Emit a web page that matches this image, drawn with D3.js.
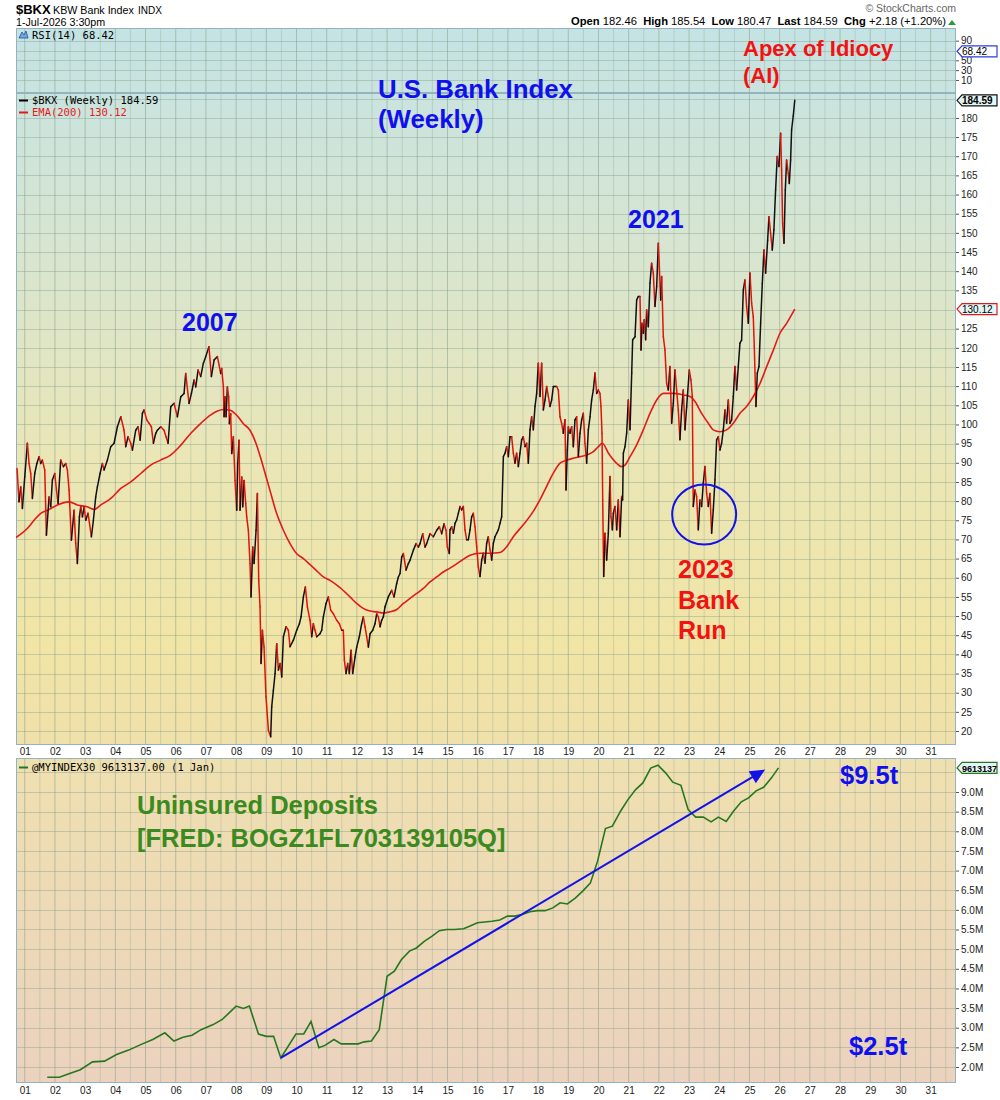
<!DOCTYPE html>
<html>
<head>
<meta charset="utf-8">
<script src="https://cdn.jsdelivr.net/npm/d3@7"></script>
<style>
  body { margin: 0; background: #fff; }
  text { font-family: "Liberation Sans", Arial, sans-serif; }
  .mono { font-family: "DejaVu Sans Mono", monospace; }
</style>
</head>
<body>
<svg id="chart"></svg>
<script>
// $BKX weekly closes (decimal year, index level)
const bkxT = [2000.745,2000.81,2000.867,2000.922,2001.0,2001.087,2001.143,2001.198,2001.253,2001.33,2001.4,2001.474,2001.53,2001.584,2001.662,2001.717,2001.805,2001.86,2001.915,2001.993,
  2002.05,2002.103,2002.19,2002.28,2002.357,2002.412,2002.467,2002.545,2002.633,2002.688,2002.743,2002.81,2002.854,2002.91,2002.964,2003.02,2003.096,2003.207,2003.273,2003.35,
  2003.405,2003.494,2003.571,2003.627,2003.737,2003.847,2003.958,2004.068,2004.18,2004.289,2004.344,2004.42,2004.51,2004.565,2004.675,2004.752,2004.82,2004.896,2004.95,2005.04,
  2005.117,2005.194,2005.26,2005.338,2005.393,2005.503,2005.613,2005.68,2005.746,2005.834,2005.944,2006.055,2006.165,2006.276,2006.33,2006.44,2006.52,2006.607,2006.662,2006.74,
  2006.827,2006.915,2006.993,2007.1,2007.18,2007.27,2007.38,2007.49,2007.522,2007.578,2007.6,2007.633,2007.666,2007.71,2007.754,2007.776,2007.82,2007.854,2007.909,2007.964,
  2008.02,2008.052,2008.096,2008.13,2008.185,2008.218,2008.262,2008.317,2008.35,2008.405,2008.46,2008.494,2008.55,2008.593,2008.66,2008.704,2008.748,2008.792,2008.825,2008.87,
  2008.924,2008.99,2009.068,2009.145,2009.178,2009.233,2009.29,2009.344,2009.4,2009.454,2009.51,2009.565,2009.653,2009.73,2009.785,2009.896,2010.006,2010.095,2010.15,2010.227,
  2010.293,2010.36,2010.448,2010.503,2010.558,2010.613,2010.668,2010.779,2010.834,2010.889,2010.977,2011.055,2011.132,2011.22,2011.33,2011.42,2011.496,2011.55,2011.584,2011.64,
  2011.695,2011.75,2011.805,2011.86,2011.938,2011.993,2012.08,2012.158,2012.213,2012.27,2012.324,2012.38,2012.435,2012.523,2012.6,2012.655,2012.71,2012.766,2012.82,2012.876,
  2012.931,2013.04,2013.152,2013.23,2013.317,2013.373,2013.428,2013.483,2013.54,2013.627,2013.704,2013.76,2013.87,2013.958,2014.035,2014.09,2014.18,2014.256,2014.31,2014.421,
  2014.532,2014.642,2014.73,2014.807,2014.885,2014.95,2014.995,2015.06,2015.083,2015.138,2015.194,2015.249,2015.304,2015.359,2015.414,2015.47,2015.525,2015.58,2015.635,2015.69,
  2015.745,2015.8,2015.856,2015.91,2015.966,2016.02,2016.077,2016.132,2016.187,2016.242,2016.297,2016.352,2016.408,2016.463,2016.518,2016.573,2016.628,2016.684,2016.739,2016.794,
  2016.85,2016.904,2016.96,2017.015,2017.07,2017.125,2017.18,2017.235,2017.29,2017.346,2017.4,2017.456,2017.51,2017.567,2017.622,2017.677,2017.732,2017.787,2017.842,2017.898,
  2017.953,2018.008,2018.063,2018.118,2018.174,2018.23,2018.284,2018.34,2018.394,2018.45,2018.505,2018.56,2018.615,2018.67,2018.726,2018.78,2018.836,2018.891,2018.924,2018.968,
  2019.002,2019.057,2019.112,2019.167,2019.222,2019.278,2019.333,2019.388,2019.443,2019.498,2019.553,2019.608,2019.664,2019.72,2019.774,2019.83,2019.885,2019.94,2019.995,2020.05,
  2020.083,2020.117,2020.14,2020.172,2020.216,2020.27,2020.326,2020.381,2020.415,2020.46,2020.492,2020.547,2020.602,2020.657,2020.713,2020.768,2020.8,2020.823,2020.878,2020.933,
  2020.988,2021.044,2021.1,2021.132,2021.21,2021.265,2021.32,2021.375,2021.408,2021.44,2021.485,2021.518,2021.562,2021.595,2021.65,2021.706,2021.76,2021.816,2021.87,2021.927,
  2021.982,2022.015,2022.06,2022.092,2022.147,2022.202,2022.257,2022.312,2022.367,2022.423,2022.478,2022.533,2022.588,2022.643,2022.698,2022.754,2022.809,2022.864,2022.92,2023.008,
  2023.063,2023.107,2023.14,2023.195,2023.25,2023.306,2023.36,2023.416,2023.47,2023.526,2023.582,2023.637,2023.692,2023.747,2023.802,2023.858,2023.913,2023.968,2024.023,2024.078,
  2024.134,2024.19,2024.244,2024.3,2024.354,2024.41,2024.465,2024.52,2024.575,2024.63,2024.685,2024.74,2024.796,2024.85,2024.906,2024.962,2025.016,2025.072,2025.127,2025.16,
  2025.215,2025.26,2025.315,2025.37,2025.425,2025.48,2025.535,2025.602,2025.646,2025.7,2025.756,2025.81,2025.866,2025.92,2025.977,2026.032,2026.065,2026.098,2026.143,2026.187,
  2026.23,2026.286,2026.32,2026.363,2026.396,2026.45,2026.5];
const bkxP = [88.5,79.8,83.7,78.1,86.4,95.1,89.8,87.2,80.7,87.2,89.8,91.6,89.8,90.7,88.1,71.1,81.1,78.5,85.5,87.2,
  82.9,79.4,90.7,89.0,89.8,88.1,82.9,69.8,77.6,68.9,63.7,75.9,78.5,75.9,78.5,75.0,76.8,70.7,75.0,81.1,
  83.7,87.2,89.8,88.1,90.7,94.2,95.1,99.4,102.0,98.5,94.2,96.8,95.1,93.3,98.5,99.4,95.9,102.9,103.8,101.2,
  100.3,99.4,95.1,97.7,98.5,99.4,98.5,96.8,95.1,104.6,105.5,102.0,107.2,108.1,113.3,105.5,108.1,111.6,109.8,114.2,
  112.5,116.0,117.7,120.3,112.5,116.8,117.7,113.3,114.6,109.8,102.0,107.2,102.0,109.8,107.2,100.2,102.8,92.4,96.8,85.4,
  77.6,89.8,95.9,77.6,86.3,78.5,85.4,79.4,75.9,72.4,63.7,55.0,68.0,63.7,72.4,82.0,59.4,52.4,37.6,46.3,
  42.0,28.9,20.2,18.5,26.3,30.6,35.0,42.8,35.9,37.6,34.1,44.6,47.2,46.3,42.0,43.7,46.3,48.0,49.8,55.0,
  57.6,52.4,48.9,44.6,48.0,46.3,44.6,45.4,46.3,49.8,53.3,55.0,51.5,50.6,48.9,48.0,46.3,46.3,38.5,35.0,
  37.6,35.0,41.1,35.0,39.3,41.9,44.6,48.0,49.8,47.2,44.6,41.9,45.4,46.3,48.0,50.6,49.8,47.2,48.9,49.8,
  52.4,55.0,56.7,55.0,58.5,60.2,61.1,65.4,66.3,62.0,63.7,64.6,67.2,68.9,68.0,68.9,71.5,68.0,68.9,71.5,
  70.7,72.4,73.3,71.5,74.1,72.4,68.0,66.3,72.5,73.3,71.6,74.2,75.1,76.8,78.6,77.7,78.6,72.5,69.9,69.9,
  72.5,75.9,76.8,73.3,68.1,62.9,60.3,64.6,66.4,63.8,69.0,70.7,67.3,64.6,69.0,70.7,71.6,72.5,74.2,75.9,
  91.6,92.5,94.2,91.6,96.8,96.8,92.5,89.9,92.5,89.0,92.5,96.0,96.8,94.2,95.1,89.9,98.6,102.0,98.6,104.7,
  108.1,116.0,107.3,116.0,103.8,106.4,109.9,107.3,104.7,106.4,109.9,109.9,109.9,109.0,102.0,100.3,97.7,101.2,82.9,93.4,
  99.4,97.7,99.4,94.2,101.2,102.0,91.6,97.7,101.2,102.9,95.1,89.9,98.6,102.0,106.4,109.0,113.4,108.1,109.0,108.1,
  104.7,97.7,80.3,60.3,71.6,64.6,71.6,86.4,75.9,72.5,76.8,78.6,72.5,80.3,70.7,81.2,80.3,92.5,94.2,97.7,
  106.4,98.6,113.4,122.1,122.9,132.5,133.4,133.4,119.4,126.4,123.8,127.3,122.1,129.9,125.5,136.9,142.1,139.5,130.8,136.0,
  147.3,141.2,132.5,138.6,122.9,119.4,110.7,109.0,115.1,100.3,105.5,114.2,109.0,103.8,96.0,103.8,109.0,98.6,104.6,114.2,
  111.6,107.3,78.6,82.9,81.2,72.5,80.3,78.6,84.6,89.0,82.0,78.6,82.0,71.6,77.7,85.5,96.0,96.8,93.3,95.1,
  98.6,103.8,100.3,106.4,100.3,101.2,107.3,115.1,109.0,115.1,121.2,122.0,135.1,137.7,130.7,126.4,139.5,131.6,128.1,120.3,
  104.7,113.4,115.1,126.4,136.8,145.5,139.5,148.1,154.2,149.9,145.5,150.8,161.2,169.9,167.3,176.0,166.4,152.5,147.3,161.2,
  169.0,165.5,162.9,169.0,176.9,180.5,184.59];

// EMA(200) of $BKX
const emaT = [2000.71,2001.09,2001.31,2001.53,2001.75,2002.08,2002.47,2002.74,2003.07,2003.3,2003.52,2003.85,2004.18,2004.51,2004.84,2005.17,2005.5,2005.83,2006.17,2006.5,
  2006.83,2007.16,2007.38,2007.6,2007.8,2008.02,2008.24,2008.46,2008.68,2008.9,2009.12,2009.34,2009.565,2009.785,2010.0,2010.23,2010.45,2010.67,2010.89,2011.11,
  2011.44,2011.77,2011.99,2012.21,2012.435,2012.655,2012.876,2013.1,2013.32,2013.54,2013.76,2013.98,2014.2,2014.42,2014.64,2014.86,2015.08,2015.41,2015.745,2016.08,
  2016.41,2016.74,2016.96,2017.18,2017.51,2017.84,2018.06,2018.28,2018.505,2018.726,2018.95,2019.167,2019.39,2019.61,2019.83,2019.995,2020.13,2020.33,2020.547,2020.768,
  2020.878,2021.044,2021.265,2021.485,2021.706,2021.927,2022.147,2022.48,2022.81,2023.03,2023.195,2023.416,2023.637,2023.8,2024.023,2024.244,2024.465,2024.685,2024.906,2025.127,
  2025.35,2025.57,2025.79,2026.01,2026.23,2026.5];
const emaP = [70.5,72.9,75.0,76.8,77.6,79.0,79.8,79.0,78.5,77.8,79.0,80.7,83.3,85.0,87.2,89.4,90.7,92.0,94.6,97.7,
  100.3,102.5,103.5,103.9,103.7,102.4,100.2,98.5,94.6,88.9,82.8,76.8,72.4,68.9,66.3,65.0,63.4,61.8,60.2,59.3,
  57.4,55.0,53.3,52.0,51.3,51.1,50.8,51.1,51.7,53.3,54.6,55.9,57.2,58.9,60.2,61.5,62.5,64.2,65.9,66.4,
  66.4,66.6,68.1,70.7,73.8,77.3,80.3,83.8,87.3,89.9,90.7,91.2,91.6,92.0,92.9,94.2,95.1,92.5,90.3,89.0,
  89.4,91.6,94.7,98.6,102.9,106.4,108.1,108.1,107.7,107.3,106.0,102.9,100.3,98.6,98.1,98.6,100.3,102.9,104.7,107.3,
  110.7,115.1,119.4,123.8,126.4,130.12];

// @MYINDEX30 uninsured deposits, quarterly, in millions (of $ millions)
const depT = [2001.745,2002.146,2002.44,2002.84,2003.245,2003.64,2004.04,2004.44,2004.84,2005.24,2005.64,2005.94,2006.24,2006.54,2006.84,2007.24,2007.54,2008.0,2008.24,2008.44,
  2008.74,2009.0,2009.24,2009.48,2009.98,2010.24,2010.48,2010.74,2010.94,2011.24,2011.48,2012.04,2012.24,2012.48,2012.74,2013.0,2013.24,2013.47,2013.74,2013.97,
  2014.23,2014.49,2014.73,2014.97,2015.23,2015.53,2015.73,2015.99,2016.23,2016.47,2016.73,2016.99,2017.23,2017.47,2017.73,2017.97,2018.23,2018.49,2018.73,2018.97,
  2019.23,2019.47,2019.73,2019.97,2020.23,2020.46,2020.73,2020.97,2021.23,2021.47,2021.73,2021.97,2022.23,2022.46,2022.73,2022.97,2023.22,2023.47,2023.73,2023.97,
  2024.23,2024.47,2024.73,2024.97,2025.22,2025.47,2025.73,2025.96];
const depM = [1.74,1.74,1.82,1.93,2.13,2.15,2.32,2.43,2.57,2.70,2.87,2.66,2.76,2.81,2.95,3.08,3.21,3.55,3.49,3.55,
  2.84,2.78,2.78,2.23,2.84,2.84,3.16,2.49,2.55,2.70,2.59,2.59,2.64,2.66,2.95,4.31,4.44,4.73,4.95,5.03,
  5.20,5.33,5.47,5.50,5.50,5.52,5.58,5.67,5.69,5.71,5.74,5.84,5.84,5.88,5.95,5.98,5.98,6.05,6.18,6.15,
  6.30,6.47,6.68,7.24,8.07,8.13,8.51,8.80,9.06,9.23,9.61,9.68,9.48,9.25,9.17,8.55,8.36,8.36,8.24,8.36,
  8.25,8.51,8.75,8.85,9.03,9.12,9.36,9.613137];

// tick labels (130 sits under the EMA tag, so it is left out like in the original)
const yearTicks = [2001,2002,2003,2004,2005,2006,2007,2008,2009,2010,2011,2012,2013,2014,2015,2016,2017,2018,2019,2020,2021,2022,2023,2024,2025,2026,2027,2028,2029,2030,2031];
const priceTicks = [20,25,30,35,40,45,50,55,60,65,70,75,80,85,90,95,100,105,110,115,120,125,135,140,145,150,155,160,165,170,175,180];
const priceGrid = [20,25,30,35,40,45,50,55,60,65,70,75,80,85,90,95,100,105,110,115,120,125,130,135,140,145,150,155,160,165,170,175,180,185];
const depTicks = [2.0,2.5,3.0,3.5,4.0,4.5,5.0,5.5,6.0,6.5,7.0,7.5,8.0,8.5,9.0];
const rsiTicks = [90,50,30,10];

// annotation anchors (data coords)
const trendFrom = [2009.48, 2.23];
const trendTo = [2025.52, 9.57];
const runCircle = [2023.5, 76.5];

const width = 1000, height = 1100;
const left = 16, right = 956;
const rsiTop = 28, priceTop = 93, priceBottom = 745, depTop = 758, depBottom = 1083;

const svg = d3.select("#chart").attr("width", width).attr("height", height);
svg.append("rect").attr("width", width).attr("height", height).attr("fill", "#fff");

// scales
const x = d3.scaleLinear().domain([2000.71, 2031.84]).range([left, right]);
const yP = d3.scaleLinear().domain([16.35, 186.5]).range([priceBottom, priceTop]);
const yR = d3.scaleLinear().domain([-16.5, 115.8]).range([priceTop, rsiTop]);
const yD = d3.scaleLinear().domain([1.593, 9.865]).range([depBottom, depTop]);

// backgrounds
const defs = svg.append("defs");
const g1 = defs.append("linearGradient").attr("id", "bgTop")
    .attr("gradientUnits", "userSpaceOnUse").attr("x1", 0).attr("x2", 0).attr("y1", rsiTop).attr("y2", priceBottom);
[[0, "#c4e3e4"], [0.3, "#d7e5d1"], [0.6, "#eae6b6"], [0.85, "#f1e5a6"], [1, "#f0e0aa"]]
    .forEach(s => g1.append("stop").attr("offset", s[0]).attr("stop-color", s[1]));
const g2 = defs.append("linearGradient").attr("id", "bgLow")
    .attr("gradientUnits", "userSpaceOnUse").attr("x1", 0).attr("x2", 0).attr("y1", depTop).attr("y2", depBottom);
[[0, "#efe0b0"], [1, "#ebd2be"]].forEach(s => g2.append("stop").attr("offset", s[0]).attr("stop-color", s[1]));

defs.append("clipPath").attr("id", "clipTop").append("rect")
    .attr("x", left).attr("y", priceTop).attr("width", right - left).attr("height", priceBottom - priceTop);
defs.append("clipPath").attr("id", "clipLow").append("rect")
    .attr("x", left).attr("y", depTop).attr("width", right - left).attr("height", depBottom - depTop);

svg.append("rect").attr("x", left).attr("y", rsiTop).attr("width", right - left)
    .attr("height", priceBottom - rsiTop).attr("fill", "url(#bgTop)");
svg.append("rect").attr("x", left).attr("y", depTop).attr("width", right - left)
    .attr("height", depBottom - depTop).attr("fill", "url(#bgLow)");

// grid
const halfYears = yearTicks.map(d => d + 0.5).concat([2000.5]).filter(d => x(d) > left && x(d) < right);
function vGrid(y0, y1) {
    const g = svg.append("g");
    g.selectAll(".h").data(halfYears).join("line")
        .attr("x1", d => x(d)).attr("x2", d => x(d)).attr("y1", y0).attr("y2", y1)
        .attr("stroke", "#7f9a86").attr("stroke-opacity", 0.28);
    g.selectAll(".y").data(yearTicks).join("line")
        .attr("x1", d => x(d)).attr("x2", d => x(d)).attr("y1", y0).attr("y2", y1)
        .attr("stroke", "#7f9a86").attr("stroke-opacity", 0.5);
}
vGrid(rsiTop, priceTop);
vGrid(priceTop, priceBottom);
vGrid(depTop, depBottom);

function hGrid(vals, scale) {
    svg.append("g").selectAll("line").data(vals).join("line")
        .attr("x1", left).attr("x2", right)
        .attr("y1", d => Math.round(scale(d)) + 0.5).attr("y2", d => Math.round(scale(d)) + 0.5)
        .attr("stroke", "#7f9a86").attr("stroke-opacity", 0.4);
}
hGrid(priceGrid, yP);
hGrid([90, 70, 50, 30, 10], yR);
hGrid(depTicks.concat([9.5]), yD);

// panel frames
svg.append("g").selectAll("rect").data([[rsiTop, priceTop], [priceTop, priceBottom], [depTop, depBottom]]).join("rect")
    .attr("x", left + 0.5).attr("y", d => d[0] + 0.5).attr("width", right - left - 1)
    .attr("height", d => d[1] - d[0] - 1)
    .attr("fill", "none").attr("stroke", "#94b3c0");

// EMA(200)
const topG = svg.append("g").attr("clip-path", "url(#clipTop)");
topG.append("path")
    .datum(emaT.map((t, i) => [t, emaP[i]]))
    .attr("d", d3.line().x(d => x(d[0])).y(d => yP(d[1])).curve(d3.curveMonotoneX))
    .attr("fill", "none").attr("stroke", "#e31a1a").attr("stroke-width", 1.6);

// price line, black on up weeks, red on down weeks
const pts = bkxT.map((t, i) => ({ t: t, p: bkxP[i] }));
topG.append("g").selectAll("line").data(d3.pairs(pts)).join("line")
    .attr("x1", d => x(d[0].t)).attr("y1", d => yP(d[0].p))
    .attr("x2", d => x(d[1].t)).attr("y2", d => yP(d[1].p))
    .attr("stroke", d => d[1].p >= d[0].p ? "#111" : "#e3120b")
    .attr("stroke-width", 1.5).attr("stroke-linecap", "round");

// 2023 bank run circle
topG.append("ellipse")
    .attr("cx", x(runCircle[0])).attr("cy", yP(runCircle[1])).attr("rx", 32).attr("ry", 30)
    .attr("fill", "none").attr("stroke", "#1212e8").attr("stroke-width", 2);

// deposits
const lowG = svg.append("g").attr("clip-path", "url(#clipLow)");
lowG.append("path")
    .datum(depT.map((t, i) => [t, depM[i]]))
    .attr("d", d3.line().x(d => x(d[0])).y(d => yD(d[1])))
    .attr("fill", "none").attr("stroke", "#26761f").attr("stroke-width", 1.6);

// trend arrow
const ax0 = x(trendFrom[0]), ay0 = yD(trendFrom[1]), ax1 = x(trendTo[0]), ay1 = yD(trendTo[1]);
const ang = Math.atan2(ay1 - ay0, ax1 - ax0);
const rot = (a, b) => [ax1 + a * Math.cos(ang) - b * Math.sin(ang), ay1 + a * Math.sin(ang) + b * Math.cos(ang)];
lowG.append("line").attr("x1", ax0).attr("y1", ay0)
    .attr("x2", ax1 - 12 * Math.cos(ang)).attr("y2", ay1 - 12 * Math.sin(ang))
    .attr("stroke", "#1212e8").attr("stroke-width", 2);
lowG.append("path")
    .attr("d", "M" + [ax1, ay1] + "L" + rot(-15, -7) + "L" + rot(-15, 7) + "Z")
    .attr("fill", "#1212e8");

// axes
function styleAxis(g) {
    g.select(".domain").remove();
    g.selectAll("text").attr("font-family", "Liberation Sans, Arial, sans-serif")
        .attr("font-size", 10).attr("fill", "#222");
    g.selectAll("line").attr("stroke", "#555");
}
svg.append("g").attr("transform", `translate(${right},0)`)
    .call(d3.axisRight(yP).tickValues(priceTicks).tickSize(3).tickPadding(2))
    .call(styleAxis);
svg.append("g").attr("transform", `translate(${right},0)`)
    .call(d3.axisRight(yR).tickValues(rsiTicks).tickSize(3).tickPadding(2))
    .call(styleAxis);
svg.append("g").attr("transform", `translate(${right},0)`)
    .call(d3.axisRight(yD).tickValues(depTicks).tickSize(3).tickPadding(2).tickFormat(d => d3.format(".1f")(d) + "M"))
    .call(styleAxis);
svg.append("g").attr("transform", `translate(0,${priceBottom})`)
    .call(d3.axisBottom(x).tickValues(yearTicks).tickSize(0).tickPadding(3).tickFormat(d => String(d).slice(2)))
    .call(styleAxis);
svg.append("g").attr("transform", `translate(0,${depBottom})`)
    .call(d3.axisBottom(x).tickValues(yearTicks).tickSize(0).tickPadding(4).tickFormat(d => String(d).slice(2)))
    .call(styleAxis);

// value tags on the right axis
function tag(yv, label, stroke, fill, bold, size) {
    const g = svg.append("g");
    const x0 = right + 1, x1 = 997, h = 5.5;
    g.append("path")
        .attr("d", `M${x0},${yv} L${x0 + 5},${yv - h} L${x1},${yv - h} L${x1},${yv + h} L${x0 + 5},${yv + h} Z`)
        .attr("fill", fill).attr("stroke", stroke).attr("stroke-width", 1.2);
    g.append("text").attr("x", x0 + 5).attr("y", yv + 3.7)
        .attr("font-size", size).attr("font-weight", bold ? "bold" : "normal").attr("fill", "#000").text(label);
}
tag(yR(68.42), "68.42", "#2a3ee0", "#ffffff", false, 10);
tag(yP(184.59), "184.59", "#111", "#e2f6f6", true, 10);
tag(yP(130.12), "130.12", "#e31a1a", "#e2f6f6", false, 10);
tag(yD(9.613137), "9613137", "#26761f", "#e2f6f6", true, 9);

// header
svg.append("text").attr("x", 16).attr("y", 14).attr("font-size", 13).attr("font-weight", "bold").text("$BKX");
svg.append("text").attr("x", 53).attr("y", 14).attr("font-size", 10.7).text("KBW Bank Index");
svg.append("text").attr("x", 138).attr("y", 14).attr("font-size", 10).text("INDX");
svg.append("text").attr("x", 16).attr("y", 26).attr("font-size", 10.7).text("1-Jul-2026 3:30pm");
svg.append("text").attr("x", 956).attr("y", 12).attr("text-anchor", "end").attr("font-size", 10.5)
    .attr("fill", "#666").text("\u00a9 StockCharts.com");
const ohlc = svg.append("text").attr("x", 946).attr("y", 25).attr("text-anchor", "end")
    .attr("font-size", 11.2).attr("xml:space", "preserve");
[["Open", "182.46"], ["High", "185.54"], ["Low", "180.47"], ["Last", "184.59"], ["Chg", "+2.18 (+1.20%)"]].forEach((p, i) => {
    ohlc.append("tspan").attr("font-weight", "bold").text((i ? "  " : "") + p[0] + " ");
    ohlc.append("tspan").text(p[1]);
});
svg.append("path").attr("d", "M948,25 L952,20 L956,25 Z").attr("fill", "#2e9a3a");

// panel legends
svg.append("path").attr("d", "M19,38 L22,32 L24,35 L26,31 L28,38 Z").attr("fill", "#6fa8dc").attr("stroke", "#1f4fa0").attr("stroke-width", 0.8);
svg.append("text").attr("class", "mono").attr("x", 32).attr("y", 39).attr("font-size", 10.5).text("RSI(14) 68.42");
svg.append("line").attr("x1", 19).attr("x2", 28).attr("y1", 100.5).attr("y2", 100.5).attr("stroke", "#000").attr("stroke-width", 2);
svg.append("text").attr("class", "mono").attr("x", 32).attr("y", 104).attr("font-size", 10.5).text("$BKX (Weekly) 184.59");
svg.append("line").attr("x1", 19).attr("x2", 28).attr("y1", 112.5).attr("y2", 112.5).attr("stroke", "#e31a1a").attr("stroke-width", 2);
svg.append("text").attr("class", "mono").attr("x", 32).attr("y", 116).attr("font-size", 10.5).attr("fill", "#e31a1a").text("EMA(200) 130.12");
svg.append("line").attr("x1", 19).attr("x2", 28).attr("y1", 767.5).attr("y2", 767.5).attr("stroke", "#26761f").attr("stroke-width", 2);
svg.append("text").attr("class", "mono").attr("x", 32).attr("y", 771).attr("font-size", 10.5).text("@MYINDEX30 9613137.00 (1 Jan)");

// annotations
function note(xp, yp, txt, color, size) {
    svg.append("text").attr("x", xp).attr("y", yp).attr("font-size", size)
        .attr("font-weight", "bold").attr("fill", color).text(txt);
}
const blue = "#1010ee", red = "#f21212", green = "#3b8a1f";
note(378, 98, "U.S. Bank Index", blue, 25.8);
note(378, 128, "(Weekly)", blue, 25.8);
note(182, 331, "2007", blue, 25);
note(628, 228, "2021", blue, 25);
note(743, 56, "Apex of Idiocy", red, 22);
note(743, 83, "(AI)", red, 22);
note(678, 578, "2023", red, 25);
note(678, 609, "Bank", red, 25);
note(678, 639, "Run", red, 25);
note(137, 814, "Uninsured Deposits", green, 25.5);
note(137, 847, "[FRED: BOGZ1FL703139105Q]", green, 25.5);
note(840, 784, "$9.5t", blue, 25.5);
note(849, 1055, "$2.5t", blue, 25.5);
</script>
</body>
</html>
